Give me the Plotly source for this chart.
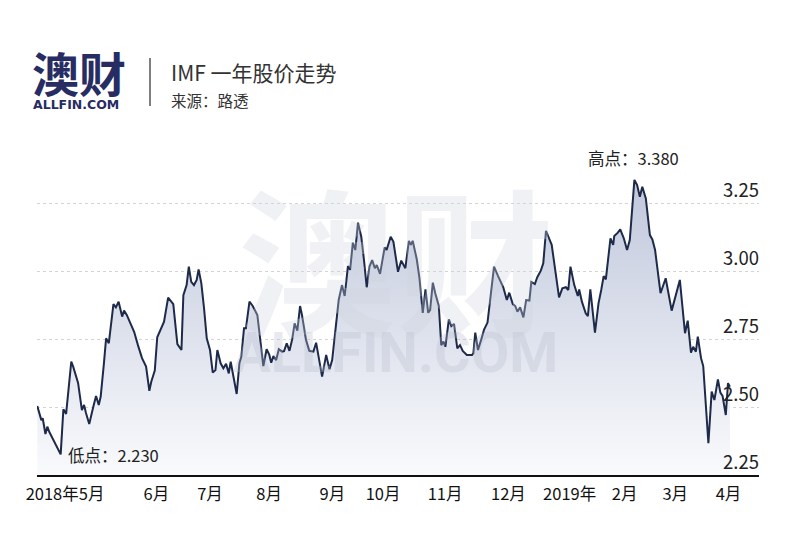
import plotly.graph_objects as go

# ---------------- data ----------------
trading_day = [
    0.1, 1.1, 1.6, 2.1, 3.1, 3.8, 4.5, 8.7, 9.7, 10.7, 12.6, 13.3, 15.1, 16.5, 17.3, 18.0,
    19.2, 20.7, 21.7, 22.7, 23.4, 24.6, 25.4, 26.4, 28.1, 29.0, 30.0, 31.3, 32.0, 33.0,
    34.2, 35.7, 37.1, 38.6, 40.1, 41.3, 42.0, 43.3, 44.2, 45.2, 46.7, 48.2, 50.1, 51.6,
    53.1, 53.8, 55.0, 55.8, 56.7, 57.7, 58.7, 59.4, 60.4, 61.4, 62.4, 63.6, 64.6, 65.6,
    66.3, 67.5, 68.5, 69.5, 70.5, 71.2, 72.4, 73.4, 74.4, 75.1, 76.1, 76.8, 78.1, 79.3,
    81.0, 82.0, 83.2, 84.4, 85.4, 86.1, 86.9, 87.9, 88.9, 90.1, 90.8, 91.8, 92.8, 93.8,
    94.7, 95.7, 96.7, 97.4, 98.9, 100.1, 101.6, 102.6, 103.8, 104.8, 106.3, 107.5, 108.5,
    109.7, 110.9, 112.1, 113.1, 114.3, 115.1, 116.1, 117.0, 118.0, 119.2, 120.2, 121.2,
    122.2, 123.2, 124.2, 124.9, 126.1, 127.8, 128.5, 130.0, 131.0, 132.7, 133.9, 135.4,
    136.7, 137.4, 138.1, 139.6, 140.6, 141.8, 142.8, 143.8, 144.5, 145.5, 146.4, 147.7,
    148.6, 149.4, 150.1, 151.4, 152.3, 153.3, 154.5, 155.5, 156.5, 158.0, 159.9, 160.4,
    161.1, 162.1, 163.3, 164.3, 165.6, 167.0, 168.0, 169.5, 170.5, 171.4, 172.7, 173.6,
    174.9, 175.8, 176.6, 177.6, 178.8, 179.8, 181.0, 181.7, 183.0, 183.9, 185.2, 186.1,
    187.1, 188.6, 189.2, 191.9, 193.1, 194.4, 195.3, 196.1, 197.5, 198.8, 199.3, 200.3,
    201.7, 202.5, 203.4, 205.1, 206.4, 207.4, 208.3, 209.1, 210.8, 211.8, 212.2, 213.5,
    214.4, 215.7, 216.9, 217.9, 219.6, 220.6, 221.6, 222.5, 223.8, 225.3, 226.2, 227.2,
    229.2, 231.1, 233.3, 236.3, 238.2, 239.2, 240.4, 241.2, 242.2, 242.9, 244.1, 244.9,
    246.8, 248.0, 249.0, 250.3, 251.2, 252.0, 253.2, 254.0, 254.7,
]
price = [
    2.504, 2.467, 2.452, 2.459, 2.401, 2.428, 2.409, 2.326, 2.492, 2.475, 2.667, 2.649,
    2.589, 2.489, 2.508, 2.478, 2.438, 2.501, 2.541, 2.508, 2.538, 2.661, 2.753, 2.735,
    2.879, 2.867, 2.888, 2.833, 2.855, 2.839, 2.814, 2.777, 2.728, 2.680, 2.649, 2.560,
    2.593, 2.634, 2.757, 2.780, 2.814, 2.903, 2.879, 2.732, 2.710, 2.912, 2.949, 3.017,
    2.961, 2.949, 2.968, 3.007, 2.956, 2.864, 2.753, 2.710, 2.627, 2.636, 2.710, 2.661,
    2.643, 2.659, 2.624, 2.667, 2.600, 2.548, 2.661, 2.685, 2.790, 2.790, 2.888, 2.872,
    2.839, 2.747, 2.651, 2.713, 2.692, 2.663, 2.688, 2.673, 2.713, 2.704, 2.706, 2.735,
    2.707, 2.749, 2.808, 2.781, 2.872, 2.839, 2.747, 2.707, 2.704, 2.737, 2.676, 2.612,
    2.692, 2.639, 2.673, 2.796, 2.894, 2.949, 2.909, 3.019, 3.005, 3.105, 3.078, 3.179,
    3.127, 3.041, 2.941, 3.017, 3.041, 3.011, 3.023, 2.990, 3.088, 3.078, 3.127, 3.109,
    2.998, 3.039, 3.011, 3.112, 3.097, 3.112, 3.044, 2.974, 2.847, 2.933, 2.847, 2.857,
    2.958, 2.919, 2.872, 2.728, 2.741, 2.722, 2.823, 2.798, 2.806, 2.716, 2.728, 2.707,
    2.692, 2.692, 2.698, 2.774, 2.710, 2.749, 2.784, 2.811, 2.943, 3.017, 2.982, 2.963,
    2.941, 2.894, 2.921, 2.879, 2.872, 2.851, 2.867, 2.830, 2.894, 2.892, 2.961, 2.953,
    2.978, 3.002, 3.029, 3.149, 3.115, 3.097, 2.904, 2.937, 2.941, 2.931, 3.017, 2.949,
    2.909, 2.933, 2.888, 2.845, 2.835, 2.933, 2.774, 2.882, 2.931, 2.982, 2.970, 3.121,
    3.097, 3.130, 3.142, 3.154, 3.121, 3.078, 3.115, 3.336, 3.317, 3.274, 3.311, 3.268,
    3.133, 3.117, 3.078, 2.919, 2.974, 2.855, 2.968, 2.772, 2.818, 2.700, 2.722, 2.704,
    2.759, 2.680, 2.651, 2.367, 2.557, 2.526, 2.602, 2.553, 2.541, 2.471, 2.588, 2.575,
]

month_tick_days = [10.3, 43.9, 63.6, 85.3, 108.6, 127.2, 150.0, 173.3, 195.8, 216.0, 234.6, 254.2]
month_tick_labels = ["2018年5月", "6月", "7月", "8月", "9月", "10月", "11月", "12月",
                     "2019年", "2月", "3月", "4月"]
price_ticks = [2.25, 2.50, 2.75, 3.00, 3.25]
price_tick_labels = ["2.25", "2.50", "2.75", "3.00", "3.25"]

high_label = "高点：3.380"
low_label = "低点：2.230"
title_text = "IMF 一年股价走势"
source_text = "来源：路透"
logo_text = "澳财"
logo_sub = "ALLFIN.COM"

FONT = "Noto Sans CJK SC"
NAVY = "#1e2a4a"
LOGO = "#272c63"

# ---------------- layout geometry (figure pixels) ----------------
W, H = 792, 542           # page has an 8px body margin
ML, MR, MT, MB = 29, 41, 132, 75
PW, PH = W - ML - MR, H - MT - MB


def px(x):
    return (x - ML) / PW


def py(y):
    return (H - MB - y) / PH


fig = go.Figure()

fig.add_trace(go.Scatter(
    x=trading_day, y=price, mode="lines",
    line=dict(color=NAVY, width=2),
    fill="tozeroy",
    fillgradient=dict(
        type="vertical",
        colorscale=[[0, "rgba(249,250,252,1)"], [1, "rgba(192,199,220,1)"]],
        start=2.25, stop=3.35,
    ),
    hoverinfo="skip", showlegend=False,
))

# watermark
fig.add_annotation(xref="paper", yref="paper", x=px(388), y=py(247), text="<b>" + logo_text + "</b>",
                   showarrow=False, font=dict(family=FONT, size=158, color="rgba(205,210,222,0.32)"))
fig.add_annotation(xref="paper", yref="paper", x=px(387), y=py(380), text="<b>" + logo_sub + "</b>",
                   showarrow=False,
                   font=dict(family="Roboto", size=56, weight=900, color="rgba(185,190,204,0.32)"))

# y tick labels (sit above their grid lines, right-aligned)
for v, t in zip(price_ticks, price_tick_labels):
    fig.add_annotation(xref="paper", yref="y", x=1.0, y=v, text=t, showarrow=False,
                       xanchor="right", yanchor="bottom", xshift=2, yshift=-1,
                       font=dict(family=FONT, size=18.5, color="#222"))

# high / low labels
fig.add_annotation(xref="x", yref="y", x=219.6, y=3.336, text=high_label, showarrow=False,
                   xanchor="center", yanchor="bottom", yshift=8, xshift=-1,
                   font=dict(family=FONT, size=16.5, color="#222"))
fig.add_annotation(xref="x", yref="y", x=8.7, y=2.326, text=low_label, showarrow=False,
                   xanchor="left", yanchor="middle", xshift=5, yshift=-1,
                   font=dict(family=FONT, size=16.5, color="#222"))

# header
fig.add_annotation(xref="paper", yref="paper", x=px(22), y=py(64), xanchor="left", yanchor="middle",
                   text="<b>" + logo_text + "</b>", showarrow=False,
                   font=dict(family=FONT, size=47, color=LOGO))
fig.add_annotation(xref="paper", yref="paper", x=px(23), y=py(96), xanchor="left", yanchor="middle",
                   text="<b>" + logo_sub + "</b>", showarrow=False,
                   font=dict(family="DejaVu Sans", size=12.5, color=LOGO))
fig.add_shape(type="line", xref="paper", yref="paper", x0=px(142), x1=px(142), y0=py(98), y1=py(50),
              line=dict(color="#555", width=1.5))
fig.add_annotation(xref="paper", yref="paper", x=px(161), y=py(64), xanchor="left", yanchor="middle",
                   text=title_text, showarrow=False, font=dict(family=FONT, size=21, color="#333"))
fig.add_annotation(xref="paper", yref="paper", x=px(161), y=py(92), xanchor="left", yanchor="middle",
                   text=source_text, showarrow=False, font=dict(family=FONT, size=15.5, color="#333"))

fig.update_layout(
    width=W, height=H,
    margin=dict(l=ML, r=MR, t=MT, b=MB, autoexpand=False),
    paper_bgcolor="white", plot_bgcolor="white",
    font=dict(family=FONT, color="#111"),
    xaxis=dict(range=[0, 265.4], showgrid=False, zeroline=False,
               showline=True, linecolor="#111", linewidth=2,
               tickvals=month_tick_days, ticktext=month_tick_labels,
               ticks="", ticklabelstandoff=3, tickfont=dict(size=16.5, color="#111")),
    yaxis=dict(range=[2.25, 3.483], side="right", zeroline=False,
               tickvals=price_ticks, showticklabels=False,
               showgrid=True, gridcolor="#d4d4d4", griddash="dot", gridwidth=1,
               ticks=""),
)

fig.write_html("out.html")
